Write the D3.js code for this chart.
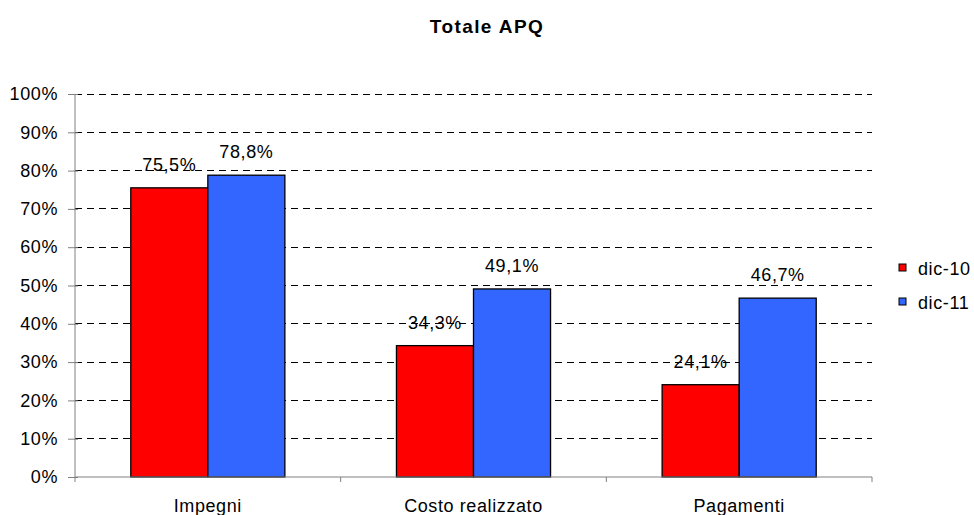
<!DOCTYPE html>
<html><head><meta charset="utf-8">
<script src="https://cdn.jsdelivr.net/npm/d3@7"></script>
<style>body{margin:0;background:#fff}text{font-family:"Liberation Sans",Arial,sans-serif;letter-spacing:0.6px}</style>
</head><body>
<svg id="c" width="974" height="515"></svg>
<script>
const categories = ["Impegni", "Costo realizzato", "Pagamenti"];
const seriesNames = ["dic-10", "dic-11"];
const dic10 = [75.5, 34.3, 24.1];
const dic11 = [78.8, 49.1, 46.7];
const yTicks = [0,10,20,30,40,50,60,70,80,90,100];
const colors = ["#FF0000", "#3366FF"];

const FS = 18;
const svg = d3.select("#c");
const L = 75, R = 872, T = 94, B = 477;
const x = d3.scaleBand().domain(categories).range([L, R]).paddingInner(0.42).paddingOuter(0.21);
const x1 = d3.scaleBand().domain(seriesNames).range([0, x.bandwidth()]);
const y = d3.scaleLinear().domain([0, 100]).range([B, T]);
const fmt = v => d3.format(".1f")(v).replace(".", ",") + "%";

svg.append("text").attr("x", 487).attr("y", 33).attr("text-anchor", "middle")
  .attr("font-size", 19).attr("font-weight", "bold").style("letter-spacing", "1.4px").text("Totale APQ");

// gridlines
svg.append("g").selectAll("line").data(yTicks.filter(d => d > 0)).join("line")
  .attr("x1", L).attr("x2", R).attr("y1", d => y(d)).attr("y2", d => y(d))
  .attr("stroke", "#000").attr("stroke-width", 1).attr("stroke-dasharray", "7,5")
  .attr("shape-rendering", "crispEdges");

// y axis
const ya = svg.append("g").attr("transform", `translate(${L},0)`)
  .call(d3.axisLeft(y).tickValues(yTicks).tickFormat(d => d + "%").tickSize(7).tickPadding(10));
ya.select(".domain").attr("stroke", "#808080").attr("d", `M0,${T}V${B}`);
ya.selectAll(".tick line").attr("stroke", "#808080").attr("x1", 3);
ya.selectAll("text").attr("font-size", FS).attr("fill", "#000").attr("font-family", "Liberation Sans, Arial, sans-serif");

// bars
const data = categories.map((c, i) => ({c, vals: [dic10[i], dic11[i]]}));
const g = svg.append("g").selectAll("g").data(data).join("g")
  .attr("transform", d => `translate(${x(d.c)},0)`);
g.selectAll("rect").data(d => d.vals.map((v, j) => ({v, s: seriesNames[j], j}))).join("rect")
  .attr("x", d => x1(d.s)).attr("width", x1.bandwidth())
  .attr("y", d => y(d.v)).attr("height", d => y(0) - y(d.v))
  .attr("fill", d => colors[d.j]).attr("stroke", "#000").attr("stroke-width", 1.3);
g.selectAll("text").data(d => d.vals.map((v, j) => ({v, s: seriesNames[j]}))).join("text")
  .attr("x", d => x1(d.s) + x1.bandwidth() / 2).attr("y", d => y(d.v) - 17)
  .attr("text-anchor", "middle").attr("font-size", FS).text(d => fmt(d.v));

// x axis
const xa = svg.append("g");
xa.append("line").attr("x1", L).attr("x2", R).attr("y1", B).attr("y2", B).attr("stroke", "#808080");
const step = x.step();
xa.selectAll("line.t").data(d3.range(categories.length + 1)).join("line").attr("class", "t")
  .attr("x1", i => L + i * step).attr("x2", i => L + i * step).attr("y1", B).attr("y2", B + 5)
  .attr("stroke", "#808080");
xa.selectAll("text").data(categories).join("text")
  .attr("x", d => x(d) + x.bandwidth() / 2).attr("y", B + 35)
  .attr("text-anchor", "middle").attr("font-size", FS).text(d => d);

// legend
const lg = svg.append("g").selectAll("g").data(seriesNames).join("g")
  .attr("transform", (d, i) => `translate(899,${264 + i * 34})`);
lg.append("rect").attr("width", 7).attr("height", 7).attr("fill", (d, i) => colors[i])
  .attr("stroke", "#000").attr("stroke-width", 1);
lg.append("text").attr("x", 19).attr("y", 11).attr("font-size", FS).text(d => d);
</script>
</body></html>
